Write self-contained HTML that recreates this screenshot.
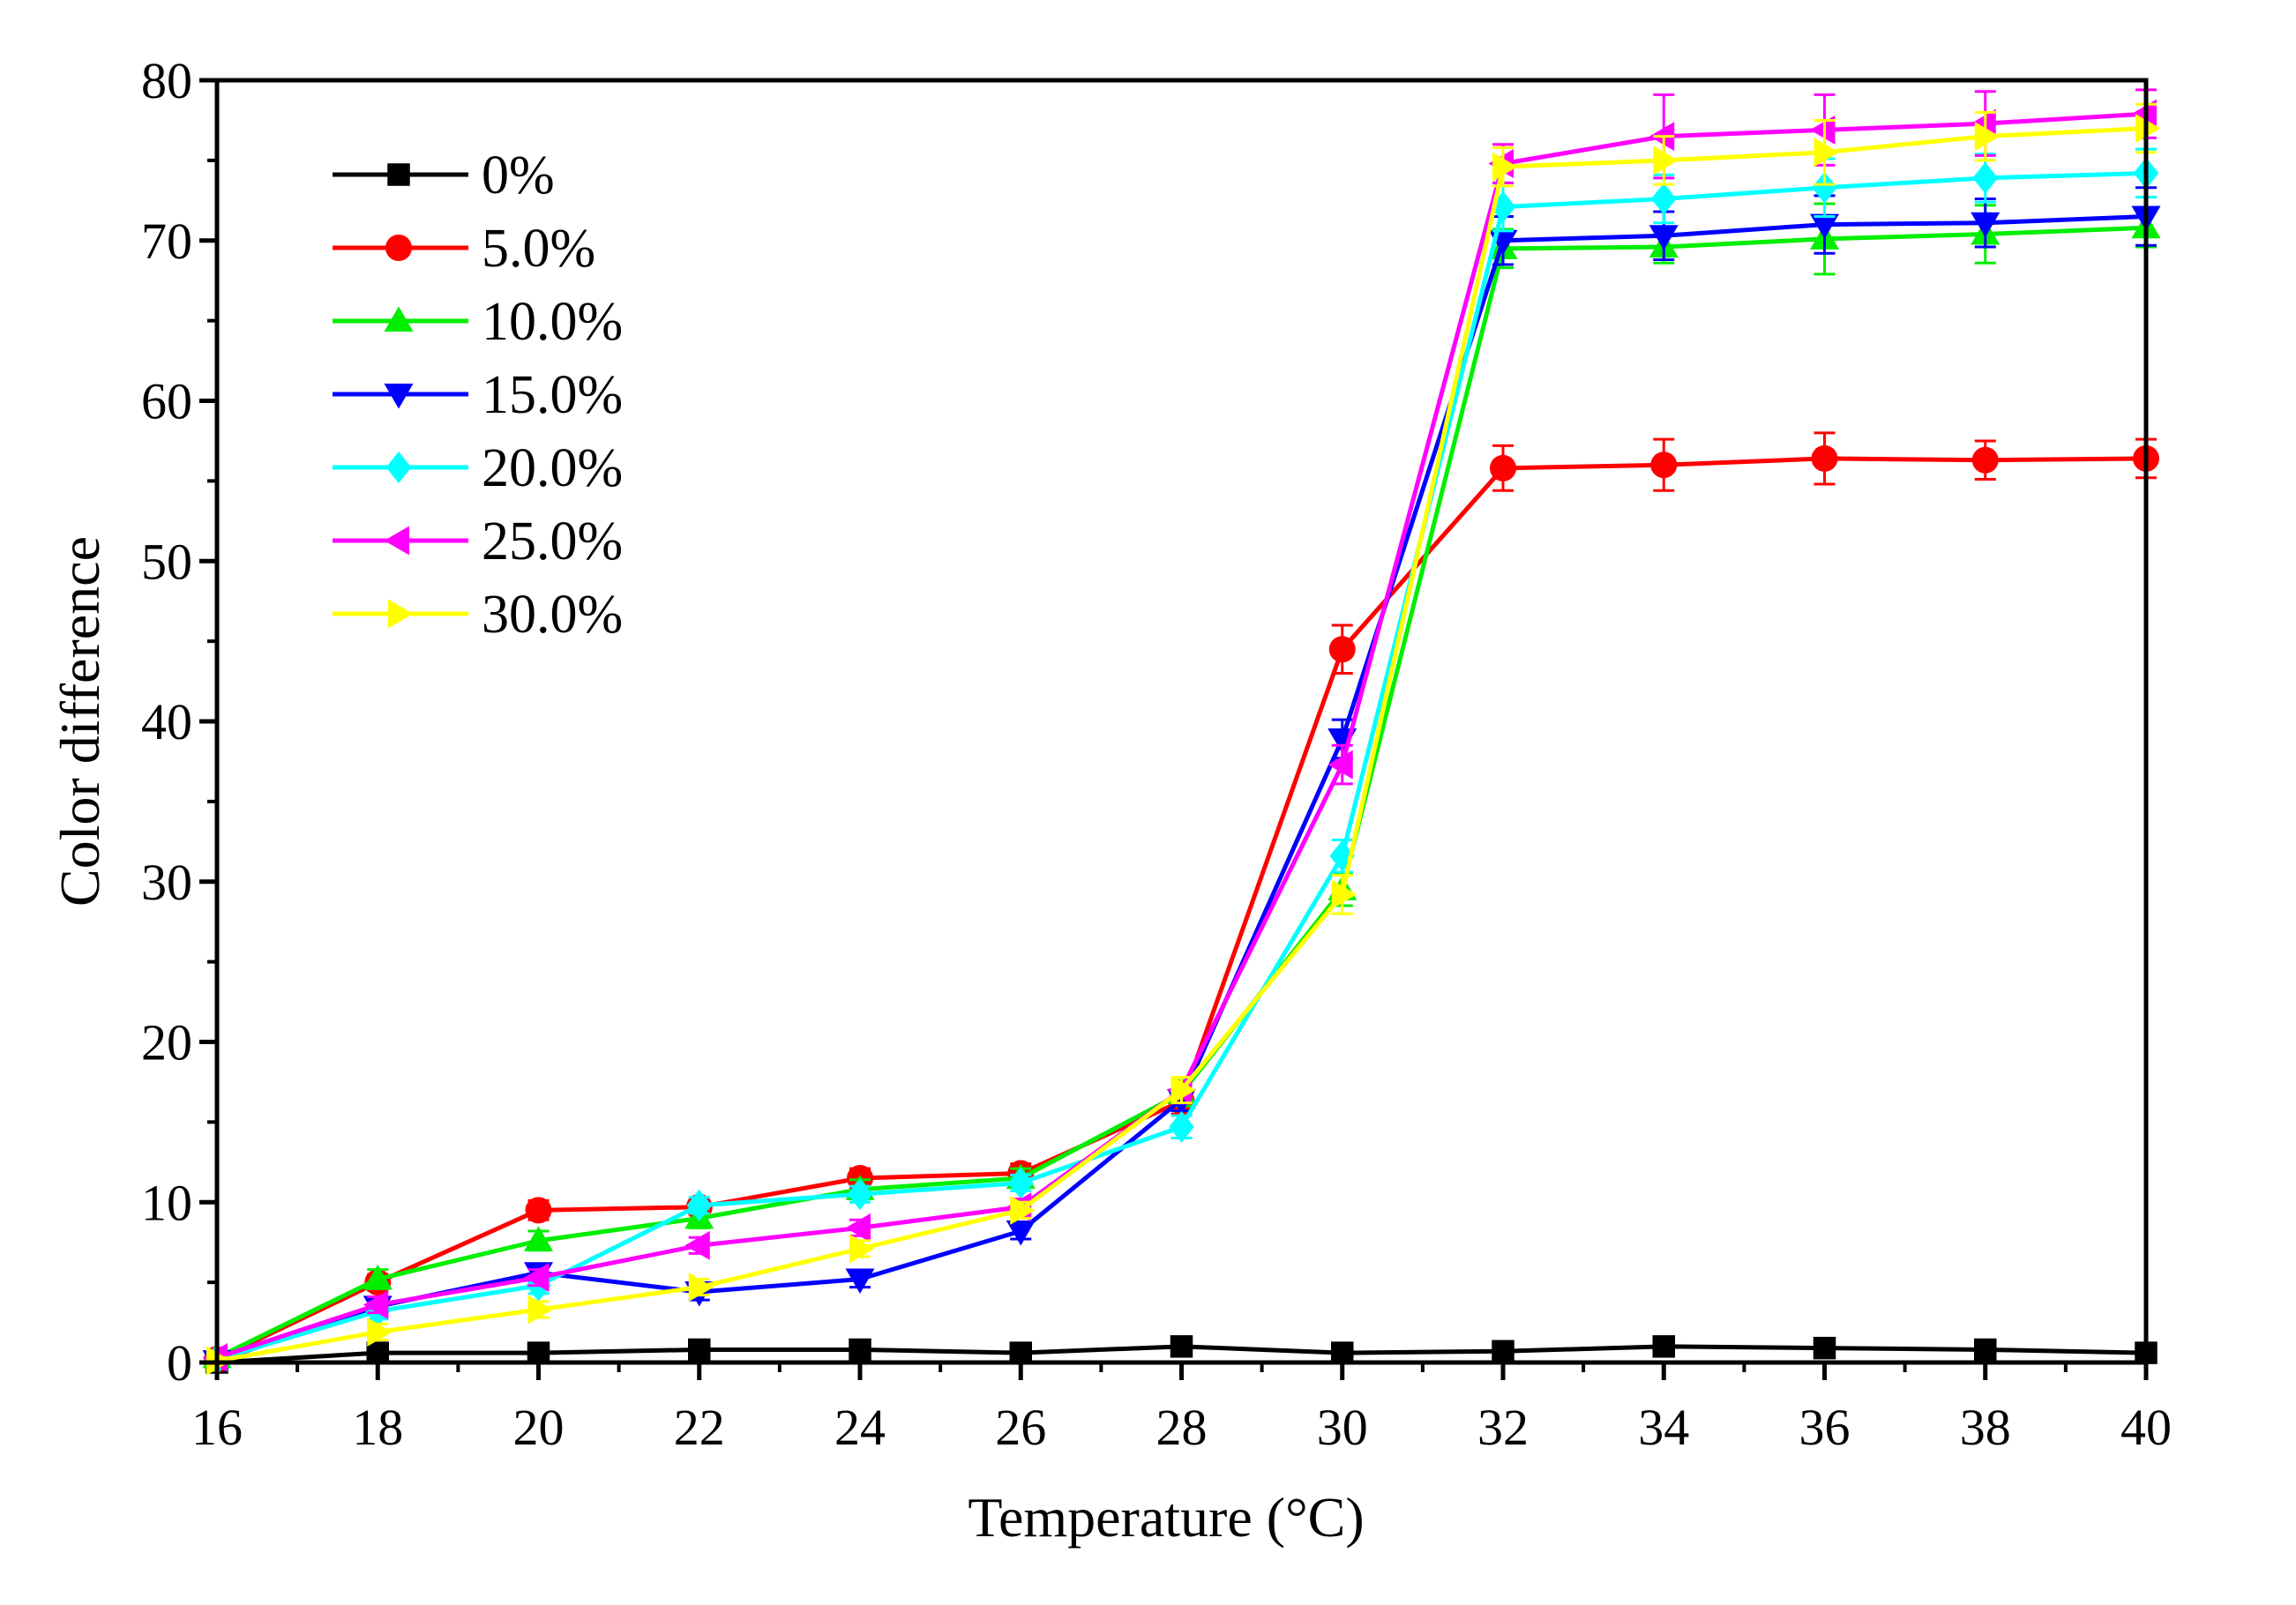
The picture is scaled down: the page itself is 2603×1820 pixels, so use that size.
<!DOCTYPE html>
<html><head><meta charset="utf-8"><style>
body{margin:0;background:#fff}
svg{display:block}
text{font-family:"Liberation Serif",serif;fill:#000}
</style></head><body>
<svg id="chart" width="2603" height="1820" viewBox="0 0 2603 1820" xmlns="http://www.w3.org/2000/svg">
<rect width="2603" height="1820" fill="#fff"/>
<g id="series"></g>
<g id="axes"></g>
<g id="legend"></g>
</svg>
<script>
const temps=[16,18,20,22,24,26,28,30,32,34,36,38,40];
const labels=["0%","5.0%","10.0%","15.0%","20.0%","25.0%","30.0%"];
const colors=["#000000","#ff0000","#00ee00","#0000ff","#00ffff","#ff00ff","#ffff00"];
const markers=["square","circle","up","down","diamond","left","right"];
const s0=[0,0.6,0.6,0.8,0.8,0.6,1.0,0.6,0.7,1.0,0.9,0.8,0.6];
const s5=[0.2,5.0,9.5,9.7,11.5,11.8,16.3,44.5,55.8,56.0,56.4,56.3,56.4];
const s10=[0.3,5.2,7.6,9.0,10.8,11.5,16.8,29.5,69.5,69.6,70.1,70.4,70.8];
const s15=[0.1,3.5,5.6,4.4,5.2,8.2,16.4,38.9,70.0,70.3,71.0,71.1,71.5];
const s20=[0.2,3.2,4.8,9.8,10.5,11.2,14.7,31.6,72.1,72.6,73.3,73.9,74.2];
const s25=[0.3,3.6,5.3,7.3,8.4,9.7,17.0,37.3,74.8,76.5,76.9,77.3,77.9];
const s30=[0.1,1.9,3.3,4.7,7.1,9.5,17.0,29.2,74.6,75.0,75.5,76.5,77.0];
const e0=[0.2,0.2,0.2,0.2,0.2,0.2,0.3,0.2,0.2,0.3,0.3,0.3,0.2];
const e5=[0.2,0.5,0.6,0.5,0.6,0.6,0.8,1.5,1.4,1.6,1.6,1.2,1.2];
const e10=[0.2,0.6,0.6,0.6,0.6,0.6,0.8,1.0,1.2,1.0,2.2,1.8,1.2];
const e15=[0.2,0.5,0.5,0.5,0.5,0.5,0.7,1.2,1.5,1.5,1.8,1.5,1.8];
const e20=[0.2,0.5,0.5,0.5,0.5,0.5,0.7,1.0,1.5,1.5,1.8,1.5,1.5];
const e25=[0.2,0.5,0.5,0.5,0.5,0.5,0.8,1.2,1.2,2.6,2.2,2.0,1.5];
const e30=[0.2,0.5,0.5,0.5,0.5,0.5,0.8,1.2,1.2,1.5,2.0,1.5,1.5];
const series=[s0,s5,s10,s15,s20,s25,s30];
const errs=[e0,e5,e10,e15,e20,e25,e30];
const xTicks=[16,18,20,22,24,26,28,30,32,34,36,38,40];
const yTicks=[0,10,20,30,40,50,60,70,80];

const L=246,R=2433,T=91,B=1545;
const X=v=>L+(v-16)/(40-16)*(R-L);
const Y=v=>B-(v/80)*(B-T);
const NS="http://www.w3.org/2000/svg";
function mk(tag,attrs,parent){const e=document.createElementNS(NS,tag);for(const k in attrs)e.setAttribute(k,attrs[k]);parent.appendChild(e);return e;}
function marker(type,cx,cy,r,color,parent){
  let e;
  if(type==="square")e=mk("rect",{x:cx-r*0.85,y:cy-r*0.85,width:r*1.7,height:r*1.7,fill:color},parent);
  else if(type==="circle")e=mk("circle",{cx:cx,cy:cy,r:r,fill:color},parent);
  else{
    let p;
    if(type==="up")p=[[cx,cy-r*1.1],[cx-r*1.1,cy+r*0.8],[cx+r*1.1,cy+r*0.8]];
    if(type==="down")p=[[cx,cy+r*1.1],[cx-r*1.1,cy-r*0.8],[cx+r*1.1,cy-r*0.8]];
    if(type==="diamond")p=[[cx,cy-r*1.2],[cx+r*0.95,cy],[cx,cy+r*1.2],[cx-r*0.95,cy]];
    if(type==="left")p=[[cx-r*1.1,cy],[cx+r*0.8,cy-r*1.1],[cx+r*0.8,cy+r*1.1]];
    if(type==="right")p=[[cx+r*1.1,cy],[cx-r*0.8,cy-r*1.1],[cx-r*0.8,cy+r*1.1]];
    e=mk("polygon",{points:p.map(q=>q.join(",")).join(" "),fill:color},parent);
  }
  return e;
}
const gs=document.getElementById("series");
series.forEach((s,i)=>{
  const g=mk("g",{},gs);
  
  
  s.forEach((v,j)=>{
    const x=X(temps[j]),y1=Y(v+errs[i][j]),y2=Y(Math.max(0,v-errs[i][j]));
    const eb=mk("path",{d:`M${x},${y1}V${y2}M${x-12},${y1}H${x+12}M${x-12},${y2}H${x+12}`,stroke:colors[i],"stroke-width":3,fill:"none"},g);
    
    
  });
  const line=mk("polyline",{points:s.map((v,j)=>X(temps[j])+","+Y(v)).join(" "),fill:"none",stroke:colors[i],"stroke-width":5,"stroke-linejoin":"round"},g);
  
  
  s.forEach((v,j)=>{
    const m=marker(markers[i],X(temps[j]),Y(v),15,colors[i],g);
    
    
  });
});
const ga=document.getElementById("axes");
const frame=mk("rect",{x:L,y:T,width:R-L,height:B-T,fill:"none",stroke:"#000","stroke-width":5},ga);


xTicks.forEach(v=>{
  const t=mk("line",{x1:X(v),x2:X(v),y1:B,y2:B+20,stroke:"#000","stroke-width":5},ga);
  
  
  const lb=mk("text",{x:X(v),y:B+93,"text-anchor":"middle","font-size":58},ga);
  lb.textContent=v;
  
  
  if(v<40){const m=mk("line",{x1:X(v+1),x2:X(v+1),y1:B,y2:B+11,stroke:"#000","stroke-width":4},ga);
  
  }
});
yTicks.forEach(v=>{
  const t=mk("line",{x1:L-20,x2:L,y1:Y(v),y2:Y(v),stroke:"#000","stroke-width":5},ga);
  
  
  const lb=mk("text",{x:L-28,y:Y(v)+20,"text-anchor":"end","font-size":58},ga);
  lb.textContent=v;
  
  
  if(v<80){const m=mk("line",{x1:L-11,x2:L,y1:Y(v+5),y2:Y(v+5),stroke:"#000","stroke-width":4},ga);
  
  }
});
const xt=mk("text",{x:1322,y:1742,"text-anchor":"middle","font-size":64},ga);
xt.textContent="Temperature (°C)";


const yt=mk("text",{x:0,y:0,"text-anchor":"middle","font-size":64,transform:"translate(112,818) rotate(-90)"},ga);
yt.textContent="Color difference";


const gl=document.getElementById("legend");


labels.forEach((lab,i)=>{
  const y=198+i*83;
  const g=mk("g",{},gl);
  
  
  mk("line",{x1:377,x2:531,y1:y,y2:y,stroke:colors[i],"stroke-width":5},g);
  marker(markers[i],452,y,15,colors[i],g);
  const t=mk("text",{x:546,y:y+21,"font-size":62},g);
  t.textContent=lab;
});
</script>
</body></html>
